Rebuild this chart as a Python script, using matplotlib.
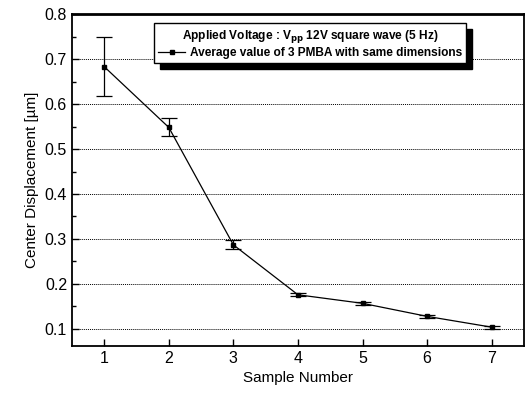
import numpy as np
import matplotlib
matplotlib.use("Agg")
import matplotlib.pyplot as plt
from matplotlib.ticker import MultipleLocator
from matplotlib.lines import Line2D

plt.rcParams["font.family"] = ["Liberation Sans", "DejaVu Sans"]

# data
sample = [1, 2, 3, 4, 5, 6, 7]
displacement = [0.683, 0.548, 0.287, 0.176, 0.157, 0.128, 0.104]
err_low = [0.066, 0.020, 0.010, 0.003, 0.003, 0.003, 0.003]
err_high = [0.067, 0.020, 0.011, 0.003, 0.003, 0.003, 0.003]

title_text = r"Applied Voltage : V$_{\mathbf{pp}}$ 12V square wave (5 Hz)"
series_label = "Average value of 3 PMBA with same dimensions"

fig = plt.figure(figsize=(5.25, 4.01), dpi=100)
ax = fig.add_axes([0.137, 0.137, 0.861, 0.828])

ax.errorbar(sample, displacement, yerr=[err_low, err_high],
            color="black", lw=0.9, marker="s", ms=3.5,
            capsize=6, elinewidth=0.9, capthick=0.9)

ax.set_xlim(0.5, 7.5)
ax.set_ylim(0.062, 0.8)
ax.xaxis.set_major_locator(MultipleLocator(1))
ax.yaxis.set_major_locator(MultipleLocator(0.1))
ax.yaxis.set_minor_locator(MultipleLocator(0.05))
ax.tick_params(direction="in", which="both", labelsize=11.5, width=1.0)
ax.tick_params(which="major", length=5)
ax.tick_params(which="minor", length=3)
ax.tick_params(axis="x", which="both", top=False)
ax.tick_params(axis="y", which="both", right=False)

for y in np.arange(0.1, 0.75, 0.1):
    ax.axhline(y, color="black", lw=0.7, ls=(0, (1, 1)), zorder=0)

for s in ax.spines.values():
    s.set_linewidth(1.3)
ax.spines["top"].set_linewidth(2.0)

ax.set_xlabel("Sample Number", fontsize=11)
ax.set_ylabel("Center Displacement [µm]", fontsize=11)

handle = Line2D([], [], color="black", lw=0.9, marker="s", ms=3.5)
leg = ax.legend([handle], [series_label], loc="upper center",
                bbox_to_anchor=(0.527, 0.99),
                title=title_text, fancybox=False,
                shadow={"color": "black", "alpha": 1.0, "ox": 4, "oy": -4},
                frameon=True, edgecolor="black", fontsize=8.6,
                title_fontproperties={"size": 8.6, "weight": "bold"},
                handlelength=2.2, handletextpad=0.4, borderpad=0.35,
                labelspacing=0.2)
for t in leg.get_texts():
    t.set_fontweight("bold")
leg.get_frame().set_linewidth(1.0)

fig.savefig("out.png", dpi=100)
